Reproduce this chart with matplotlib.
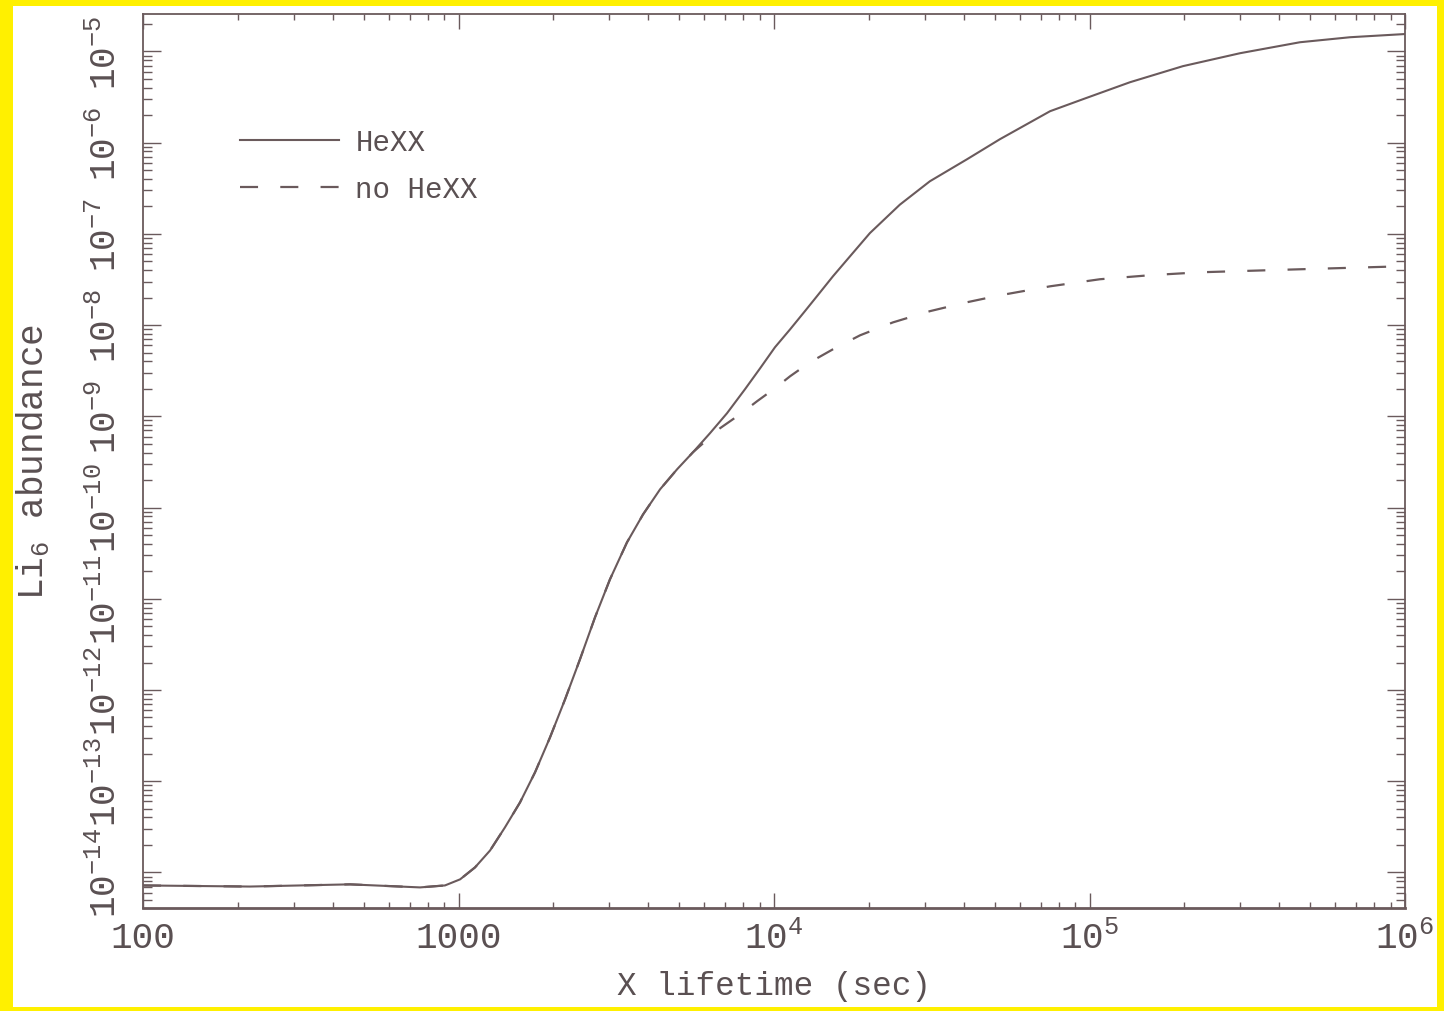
import matplotlib
matplotlib.use("Agg")
import matplotlib.pyplot as plt
from matplotlib.patches import Rectangle
from matplotlib.ticker import LogLocator, NullFormatter
import numpy as np

# Li6 abundance versus lifetime of the X particle
lifetime_hexx = [100, 218, 453, 755, 906, 1012, 1128, 1259, 1403, 1567, 1748, 1950,
                 2176, 2427, 2708, 3020, 3420, 3846, 4355, 4932, 5534, 6266, 7096,
                 8091, 9036, 10070, 11250, 12530, 13680, 15380, 17420, 20140, 25060,
                 31190, 40930, 52000, 74990, 95270, 134300, 197700, 299900, 464500,
                 669900, 1000000]
li6_hexx = [7.2e-15, 7.0e-15, 7.4e-15, 6.85e-15, 7.2e-15, 8.4e-15, 1.135e-14, 1.74e-14,
            3.11e-14, 5.86e-14, 1.25e-13, 3.02e-13, 7.88e-13, 2.17e-12, 6.25e-12,
            1.63e-11, 4.15e-11, 8.41e-11, 1.585e-10, 2.63e-10, 4.03e-10, 6.52e-10,
            1.08e-09, 1.98e-09, 3.36e-09, 5.71e-09, 8.99e-09, 1.42e-08, 2.07e-08,
            3.43e-08, 5.68e-08, 1.02e-07, 2.09e-07, 3.77e-07, 6.58e-07, 1.09e-06,
            2.21e-06, 2.99e-06, 4.59e-06, 6.89e-06, 9.55e-06, 1.26e-05, 1.43e-05,
            1.55e-05]

lifetime_nohexx = [100, 218, 453, 755, 906, 1012, 1128, 1259, 1403, 1567, 1748, 1950,
                   2176, 2427, 2708, 3020, 3420, 3846, 4355, 4932, 5534, 6266, 6745,
                   7798, 8831, 10070, 11250, 13000, 15380, 18750, 23820, 31190, 40930,
                   52000, 74990, 107900, 155600, 223900, 464500, 1000000]
li6_nohexx = [7.2e-15, 7.0e-15, 7.4e-15, 6.85e-15, 7.2e-15, 8.4e-15, 1.135e-14, 1.74e-14,
              3.11e-14, 5.86e-14, 1.25e-13, 3.02e-13, 7.88e-13, 2.17e-12, 6.25e-12,
              1.63e-11, 4.15e-11, 8.41e-11, 1.585e-10, 2.63e-10, 4.03e-10, 5.90e-10,
              7.40e-10, 1.05e-09, 1.46e-09, 2.03e-09, 2.75e-09, 3.91e-09, 5.43e-09,
              7.73e-09, 1.07e-08, 1.42e-08, 1.78e-08, 2.12e-08, 2.66e-08, 3.18e-08,
              3.52e-08, 3.79e-08, 4.09e-08, 4.42e-08]

series_labels = ["HeXX", "no HeXX"]
x_ticks = [100, 1000, 1e4, 1e5, 1e6]
x_tick_labels = ["100", "1000", r"$10^{4}$", r"$10^{5}$", r"$10^{6}$"]
y_ticks = [10.0 ** k for k in range(-14, -4)]
y_tick_labels = [r"$10^{%d}$" % k for k in range(-14, -4)]

ink = "#6a5a5c"
text_ink = "#5a5052"
mono = "Liberation Mono"
plt.rcParams["font.family"] = [mono, "DejaVu Sans Mono"]
plt.rcParams["mathtext.fontset"] = "custom"
plt.rcParams["mathtext.rm"] = mono
plt.rcParams["mathtext.it"] = mono
plt.rcParams["mathtext.bf"] = mono
plt.rcParams["axes.unicode_minus"] = True
plt.rcParams["lines.scale_dashes"] = False

W, H = 1444, 1012
fig = plt.figure(figsize=(W / 100, H / 100), dpi=100)
fig.patch.set_facecolor("#fff000")
fig.add_artist(Rectangle((13 / W, 1 - 1008 / H), (1437 - 13) / W, (1008 - 7) / H,
                         transform=fig.transFigure, facecolor="white",
                         edgecolor="none", zorder=0))

ax = fig.add_axes([143 / W, 1 - 909 / H, (1405 - 143) / W, (909 - 15) / H])
ax.set_facecolor("white")

ax.plot(lifetime_hexx, li6_hexx, color=ink, lw=1.5, label=series_labels[0])
ax.plot(lifetime_nohexx, li6_nohexx, color=ink, lw=1.6, dashes=(13, 16),
        label=series_labels[1])

ax.set_xscale("log")
ax.set_yscale("log")
ax.set_xlim(100, 1e6)
ax.set_ylim(10 ** -14.39, 10 ** -4.59)

ax.set_xticks(x_ticks)
ax.set_xticklabels(x_tick_labels)
ax.set_yticks(y_ticks)
ax.set_yticklabels(y_tick_labels, rotation=90, va="center")
for axis in (ax.xaxis, ax.yaxis):
    axis.set_minor_locator(LogLocator(base=10, subs=np.arange(2, 10), numticks=100))
    axis.set_minor_formatter(NullFormatter())

ax.tick_params(which="both", direction="in", colors=ink, top=True, right=True,
               width=1.0)
ax.tick_params(axis="x", which="major", length=11, pad=9, labelsize=26)
ax.tick_params(axis="x", which="minor", length=4.5)
ax.tick_params(axis="y", which="major", length=13, pad=14, labelsize=26)
ax.tick_params(axis="y", which="minor", length=6.5)
for lab in ax.get_xticklabels() + ax.get_yticklabels():
    lab.set_color(text_ink)

for side, sp in ax.spines.items():
    sp.set_color(ink)
    sp.set_linewidth(1.3)
ax.spines["bottom"].set_linewidth(2.0)

ax.set_xlabel("X lifetime (sec)", fontsize=23.5, color=text_ink, labelpad=10)
ax.set_ylabel(r"Li$_6$ abundance", fontsize=26, color=text_ink, labelpad=27)

leg = ax.legend(loc="upper left", bbox_to_anchor=(0.0769, 0.872), frameon=False,
                fontsize=21, handlelength=3.4, handletextpad=0.55,
                labelspacing=0.65, borderpad=0, borderaxespad=0)
for t in leg.get_texts():
    t.set_color(text_ink)

fig.savefig("out.png", dpi=100, facecolor=fig.get_facecolor())
